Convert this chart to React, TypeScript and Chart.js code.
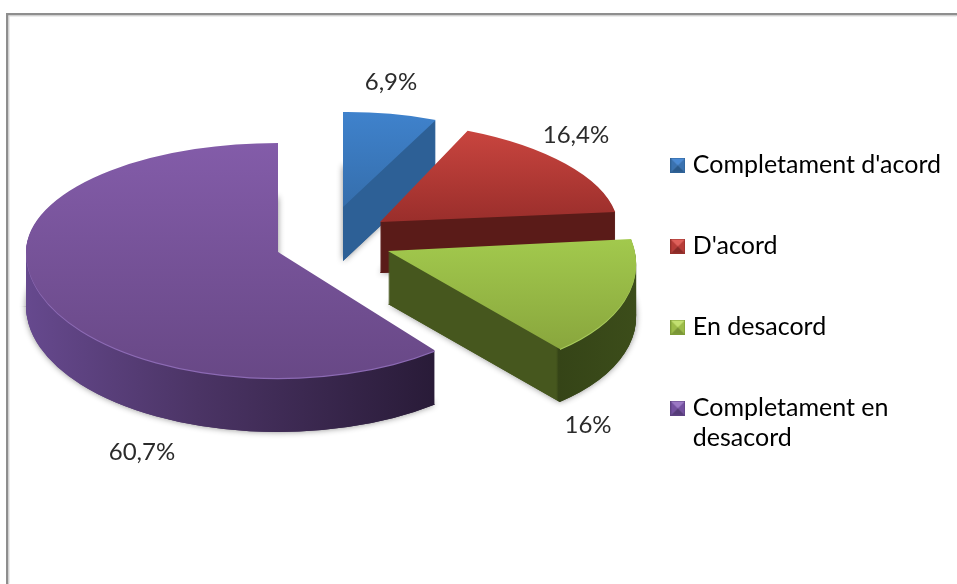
import { useEffect, useRef } from "react";
import { ArcElement, Chart, registerables } from "chart.js";

Chart.register(...registerables);

const categories: (string | string[])[] = [
  "Completament d'acord",
  "D'acord",
  "En desacord",
  ["Completament en", "desacord"],
];
const shares = [6.9, 16.4, 16, 60.7];
const shareLabels = ["6,9%", "16,4%", "16%", "60,7%"];

// Style of the fake 3D look, slice by slice.
const faceStops = [
  ["#3F82CC", "#356EAC"],
  ["#C9453F", "#9A2E2B"],
  ["#A2C94D", "#89A63D"],
  ["#835CA9", "#684886"],
];
const faceSpan = [[112, 207], [130, 222], [239, 350], [143, 378]];
const wallStops: [number, string][][] = [
  [[0, "#2D6096"], [1, "#2D6096"]],
  [[0, "#5A1B18"], [1, "#5A1B18"]],
  [[0, "#46571E"], [0.675, "#46571E"], [0.685, "#354417"], [1, "#3C4D1A"]],
  [[0, "#66498E"], [0.42, "#4B3465"], [1, "#291B38"]],
];
const wallSpan = [[340, 440], [378, 618], [388, 637], [26, 434]];
const rimColors = [null, null, "#A9CC5C", "#8C6AB4"];
const rimFromX = [0, 0, 560, 0];
const depths = [54, 51, 53, 54];
const apexes = [[343, 207], [380, 222], [388, 251], [278, 252]];
const projections = [
  [{ m: [221, -2, 0, 95], band: 0 }],
  [{ m: [238, 0.8, 13.6, 101], band: 0 }],
  [{ m: [247, 1.2, 22.9, 124.3], band: 0 }],
  [{ m: [252, 0, 0, 109], band: -1 }, { m: [252, 0, 0, 126], band: 1 }],
];
const paintOrder = [0, 1, 3, 2];
const labelOffsets = [[48, -125], [196, -87], [200, 174], [-136, 200]];
const legendCols = [
  ["#4A8AD4", "#2F6297", "#3A72B0", "#2A5A8C"],
  ["#E0605A", "#96302C", "#B83C38", "#8A2A27"],
  ["#C2E070", "#7E9C38", "#9CBC48", "#7A9636"],
  ["#9B78C4", "#5E4282", "#7450A0", "#553B78"],
];

const FONT = "Lato";

function bevel(c: string[]) {
  const s = 15;
  const cv = document.createElement("canvas");
  cv.width = s;
  cv.height = s;
  const g = cv.getContext("2d")!;
  const tri = (col: string, pts: number[][]) => {
    g.fillStyle = col;
    g.strokeStyle = col;
    g.lineWidth = 0.5;
    g.beginPath();
    pts.forEach((p, i) => (i ? g.lineTo(p[0], p[1]) : g.moveTo(p[0], p[1])));
    g.closePath();
    g.fill();
    g.stroke();
  };
  const m = [s / 2, s / 2];
  tri(c[3], [[0, s], [s, s], m]);
  tri(c[2], [[0, 0], [0, s], m]);
  tri(c[2], [[s, 0], [s, s], m]);
  tri(c[0], [[0, 0], [s, 0], m]);
  g.strokeStyle = c[1];
  g.lineWidth = 1;
  g.strokeRect(0.5, 0.5, s - 1, s - 1);
  return cv;
}

function deviceGradient(
  ctx: CanvasRenderingContext2D,
  p: number,
  q: number,
  o: number,
  from: number,
  to: number,
  stops: [number, string][],
) {
  // Gradient whose colour depends on one device axis only, given in arc space:
  // device = p*lx + q*ly + o.
  const n = p * p + q * q;
  const s0 = (from - o) / n;
  const s1 = (to - o) / n;
  const g = ctx.createLinearGradient(p * s0, q * s0, p * s1, q * s1);
  stops.forEach(([t, c]) => g.addColorStop(t, c));
  return g;
}

const pie3d = {
  id: "pie3d",
  beforeDraw(chart: any) {
    const ctx = chart.ctx;
    ctx.save();
    ctx.fillStyle = "#ffffff";
    ctx.fillRect(0, 0, 957, 584);
    ctx.fillStyle = "#8E8E8E";
    ctx.fillRect(6, 13, 951, 2.5);
    ctx.fillRect(6, 13, 2.5, 571);
    ctx.fillStyle = "#DADADA";
    ctx.fillRect(8.5, 15.5, 948, 1);
    ctx.fillRect(8.5, 15.5, 1, 568);
    ctx.restore();
  },
  beforeDatasetsDraw(chart: any) {
    const ctx: CanvasRenderingContext2D = chart.ctx;
    const arcs = chart.getDatasetMeta(0).data;
    const draw = (arc: any, fill: any) => {
      const ghost = Object.create(arc);
      ghost.options = {
        backgroundColor: fill,
        borderColor: "transparent",
        borderWidth: 0,
        borderAlign: "center",
        borderRadius: 0,
        offset: 0,
        spacing: 0,
        circular: true,
      };
      ArcElement.prototype.draw.call(ghost, ctx);
    };
    for (const i of paintOrder) {
      const arc = arcs[i];
      const R = arc.outerRadius;
      const [ax, ay] = apexes[i];
      for (const piece of projections[i]) {
        const [m0, m1, m2, m3] = piece.m;
        const a = m0 / R;
        const b = m1 / R;
        const c = m2 / R;
        const d = m3 / R;
        const e = ax - a * arc.x - c * arc.y;
        const f = ay - b * arc.x - d * arc.y;
        const place = (dy: number, body: () => void, fromX = 0) => {
          ctx.save();
          if (piece.band || fromX) {
            ctx.beginPath();
            if (piece.band < 0) ctx.rect(fromX, 0, 957, ay + dy + 0.5);
            else if (piece.band > 0) ctx.rect(fromX, ay + dy, 957, 584);
            else ctx.rect(fromX, 0, 957, 584);
            ctx.clip();
          }
          ctx.setTransform(a, b, c, d, e, f + dy);
          body();
          ctx.restore();
        };
        const wall = deviceGradient(ctx, a, c, e, wallSpan[i][0], wallSpan[i][1], wallStops[i]);
        // soft shadow below the extruded body
        place(depths[i], () => {
          ctx.shadowColor = "rgba(0,0,0,0.45)";
          ctx.shadowBlur = 6;
          draw(arc, wall);
        });
        for (let step = depths[i]; step >= 1; step--) {
          place(step, () => draw(arc, wall));
        }
        const rim = rimColors[i];
        if (rim) place(1.2, () => draw(arc, rim), rimFromX[i]);
        const faceY = deviceGradient(ctx, b, d, f, faceSpan[i][0], faceSpan[i][1], [
          [0, faceStops[i][0]],
          [1, faceStops[i][1]],
        ]);
        place(0, () => draw(arc, faceY));
      }
    }
    return false;
  },
  afterDraw(chart: any) {
    const ctx: CanvasRenderingContext2D = chart.ctx;
    ctx.save();
    ctx.font = `24px ${FONT}`;
    ctx.fillStyle = "#2B2B2B";
    ctx.textAlign = "center";
    ctx.textBaseline = "middle";
    shareLabels.forEach((t, i) => {
      ctx.fillText(t, apexes[i][0] + labelOffsets[i][0], apexes[i][1] + labelOffsets[i][1]);
    });
    ctx.restore();
  },
};

export default function App() {
  const ref = useRef<HTMLCanvasElement>(null);
  useEffect(() => {
    const chart = new Chart(ref.current!, {
      type: "pie",
      data: {
        labels: categories as any,
        datasets: [{ data: shares, borderWidth: 0, backgroundColor: faceStops.map((s) => s[0]) }],
      },
      options: {
        responsive: false,
        animation: false,
        layout: { padding: { top: 96.5, right: 6 } },
        plugins: {
          tooltip: { enabled: false },
          legend: {
            position: "right",
            align: "start",
            labels: {
              color: "#2B2B2B",
              font: { family: FONT, size: 25 },
              usePointStyle: true,
              pointStyleWidth: 5,
              padding: 56,
              generateLabels: () =>
                categories.map((c, i) => ({
                  text: c as any,
                  pointStyle: bevel(legendCols[i]) as any,
                  fillStyle: faceStops[i][0],
                  strokeStyle: "transparent",
                  lineWidth: 0,
                  hidden: false,
                  index: i,
                })),
            },
          },
        },
      },
      plugins: [pie3d as any],
    });
    return () => chart.destroy();
  }, []);
  return (
    <div style={{ position: "absolute", left: 0, top: 0, width: 957, height: 584, overflow: "hidden" }}>
      <canvas ref={ref} width={957} height={584} style={{ display: "block", filter: "blur(0.4px)" }} />
    </div>
  );
}
